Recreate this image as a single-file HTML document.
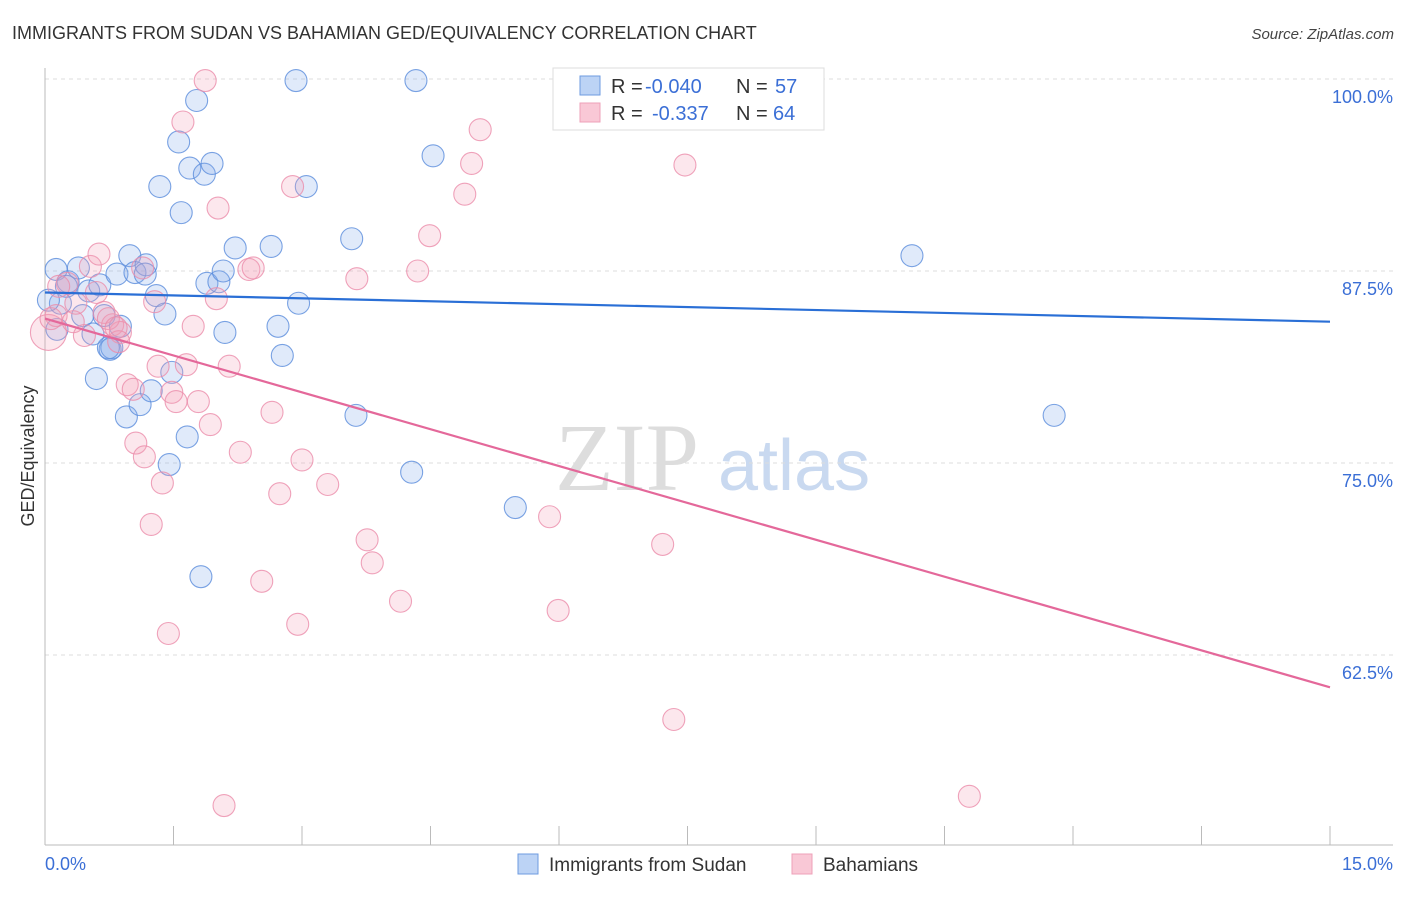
<!DOCTYPE html>
<html><head><meta charset="utf-8"><style>
body{margin:0;background:#fff;font-family:"Liberation Sans",sans-serif}
</style></head><body>
<svg id="chart" width="1406" height="892" viewBox="0 0 1406 892" xmlns="http://www.w3.org/2000/svg" style="font-family:'Liberation Sans',sans-serif">
<text x="12" y="39" font-size="18" fill="#333">IMMIGRANTS FROM SUDAN VS BAHAMIAN GED/EQUIVALENCY CORRELATION CHART</text>
<text x="1394" y="39" font-size="15" fill="#444" font-style="italic" text-anchor="end">Source: ZipAtlas.com</text>
<text transform="translate(34,456) rotate(-90)" font-size="18" fill="#333" text-anchor="middle">GED/Equivalency</text>
<g>
<text x="555" y="490" font-size="96" fill="#ddd" font-family="Liberation Serif,serif">ZIP</text>
<text x="718" y="490" font-size="72" fill="#c9d9f0">atlas</text>
</g>
<g id="grid"></g><g id="axes"></g><g id="marks"></g><g id="trend"></g>
<g>
<rect x="553" y="68" width="271" height="62" fill="#fff" stroke="#ddd"/>
<rect x="580" y="76" width="20" height="19" fill="#bcd3f5" stroke="#6e9be0"/>
<text x="611" y="93" font-size="20" fill="#333">R =</text>
<text x="645" y="93" font-size="20" fill="#3b6fd6">-0.040</text>
<text x="736" y="93" font-size="20" fill="#333">N =</text>
<text x="775" y="93" font-size="20" fill="#3b6fd6">57</text>
<rect x="580" y="103" width="20" height="19" fill="#f9c8d6" stroke="#eea0b8"/>
<text x="611" y="120" font-size="20" fill="#333">R =</text>
<text x="652" y="120" font-size="20" fill="#3b6fd6">-0.337</text>
<text x="736" y="120" font-size="20" fill="#333">N =</text>
<text x="773" y="120" font-size="20" fill="#3b6fd6">64</text>
</g>
<g>
<rect x="518" y="854" width="20" height="20" fill="#bcd3f5" stroke="#6e9be0"/>
<text x="549" y="871" font-size="19" fill="#333">Immigrants from Sudan</text>
<rect x="792" y="854" width="20" height="20" fill="#f9c8d6" stroke="#eea0b8"/>
<text x="823" y="871" font-size="19" fill="#333">Bahamians</text>
</g>
</svg>
<script>
const xTicks=[0,1.5,3,4.5,6,7.5,9,10.5,12,13.5,15];
const yTicks=[100,87.5,75,62.5];
const yTickLabels=["100.0%","87.5%","75.0%","62.5%"];
const blueX=[0.13,0.27,0.18,0.39,0.51,0.64,0.44,0.56,0.60,0.69,0.76,0.78,0.84,0.88,0.99,1.05,1.18,1.17,1.30,1.40,0.95,1.11,1.24,1.48,1.66,1.45,1.82,1.34,1.56,1.59,1.69,1.77,1.86,1.95,1.89,2.03,2.08,2.10,2.22,2.64,2.72,2.77,2.96,2.93,3.05,3.58,3.63,4.28,4.33,4.53,5.49,10.12,11.78,0.04,0.25,0.74,0.14];
const blueY=[87.6,86.8,85.4,87.7,86.2,86.6,84.6,83.4,80.5,84.6,82.4,82.5,87.3,83.9,88.5,87.4,87.9,87.3,85.9,84.7,78.0,78.8,79.7,80.9,76.7,74.9,67.6,93.0,95.9,91.3,94.2,98.6,93.8,94.5,86.7,86.8,87.5,83.5,89.0,89.1,83.9,82.0,85.4,99.9,93.0,89.6,78.1,74.4,99.9,95.0,72.1,88.5,78.1,85.6,86.5,82.5,83.7];
const pinkX=[0.04,0.13,0.26,0.33,0.36,0.46,0.53,0.60,0.63,0.69,0.79,0.88,0.86,0.96,1.03,1.06,1.16,1.14,1.24,1.28,1.32,1.37,1.44,1.48,1.53,1.61,1.65,1.73,1.79,1.87,1.93,2.00,2.02,2.09,2.15,2.28,2.38,2.43,2.65,2.74,2.53,2.89,2.95,3.00,3.30,3.64,3.76,3.82,4.15,4.35,4.49,4.90,4.98,5.08,5.89,5.99,7.21,7.34,7.47,10.79,0.16,0.74,0.83,0.07];
const pinkY=[83.5,84.6,86.7,84.2,85.4,83.3,87.8,86.1,88.6,84.8,84.0,83.5,82.9,80.1,79.8,76.3,75.4,87.7,71.0,85.5,81.3,73.7,63.9,79.6,79.0,97.2,81.4,83.9,79.0,99.9,77.5,85.7,91.6,52.7,81.3,75.7,87.6,87.7,78.3,73.0,67.3,93.0,64.5,75.2,73.6,87.0,70.0,68.5,66.0,87.5,89.8,92.5,94.5,96.7,71.5,65.4,69.7,58.3,94.4,53.3,86.5,84.4,83.8,84.4];
const blueTrend=[86.1,84.2];
const pinkTrend=[84.4,60.4];
const NS="http://www.w3.org/2000/svg";
const X0=45,X1=1330,Y100=79,PX_PER=192/12.5;
function sx(v){return X0+(v/15)*(X1-X0);}
function sy(v){return Y100+(100-v)*PX_PER;}
function mk(t,a,p){const e=document.createElementNS(NS,t);for(const k in a)e.setAttribute(k,a[k]);p.appendChild(e);return e;}
const grid=document.getElementById('grid'),axes=document.getElementById('axes'),marks=document.getElementById('marks'),trend=document.getElementById('trend');
yTicks.forEach((t,i)=>{
 const l=mk('line',{x1:X0,x2:1393,y1:sy(t),y2:sy(t),stroke:'#ddd','stroke-dasharray':'4,4'},grid);
 
 
 const tx=mk('text',{x:1393,y:sy(t)+24,'font-size':18,fill:'#3b6fd6','text-anchor':'end'},axes);
 tx.textContent=yTickLabels[i];
 
 
});
const ya=mk('line',{x1:X0,x2:X0,y1:68,y2:845,stroke:'#bbb'},axes);


const xa=mk('line',{x1:X0,x2:1393,y1:845,y2:845,stroke:'#bbb'},axes);


xTicks.forEach(t=>{
 const l=mk('line',{x1:sx(t),x2:sx(t),y1:826,y2:845,stroke:'#bbb'},axes);
 
 
});
[[0,"0.0%","start"],[15,"15.0%","end"]].forEach(d=>{
 const tx=mk('text',{x:d[0]==0?X0:1393,y:870,'font-size':18,fill:'#3b6fd6','text-anchor':d[2]},axes);
 tx.textContent=d[1];
 
 
});
function pts(xs,ys,fill,stroke,name){
 xs.forEach((x,i)=>{
  const r=(i===0&&name==='pink-point')?18:11;
  const c=mk('circle',{cx:sx(x),cy:sy(ys[i]),r:r,fill:fill,stroke:stroke,'stroke-width':1.1},marks);
  
  
 });
}
pts(blueX,blueY,'rgba(130,170,235,0.25)','rgba(90,140,220,0.8)','blue-point');
pts(pinkX,pinkY,'rgba(245,160,185,0.25)','rgba(235,140,170,0.8)','pink-point');
const bt=mk('line',{x1:sx(0),y1:sy(blueTrend[0]),x2:sx(15),y2:sy(blueTrend[1]),stroke:'#2a6fd6','stroke-width':2.2},trend);


const pt=mk('line',{x1:sx(0),y1:sy(pinkTrend[0]),x2:sx(15),y2:sy(pinkTrend[1]),stroke:'#e4689a','stroke-width':2.2},trend);


</script>
</body></html>
